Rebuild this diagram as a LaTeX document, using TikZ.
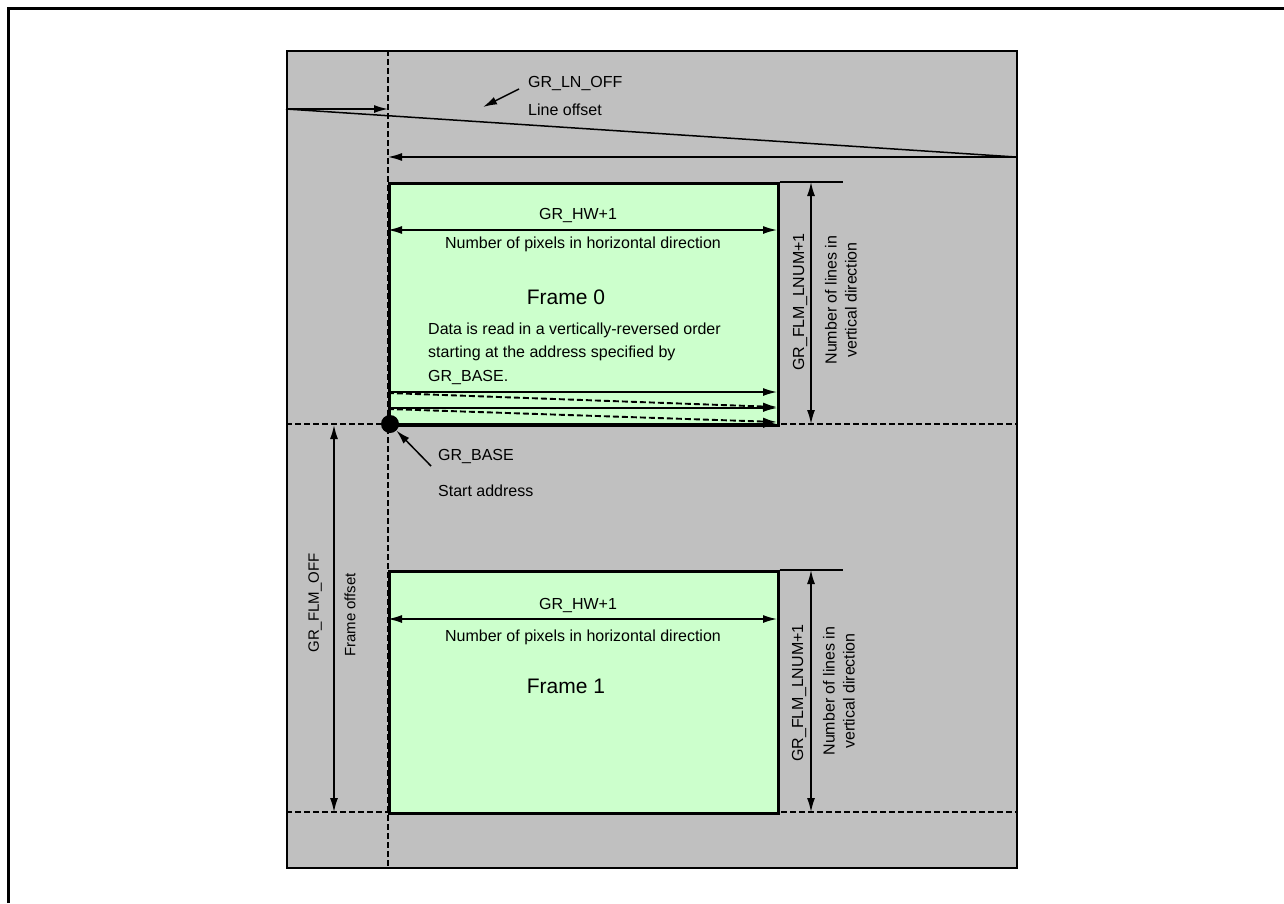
\documentclass[tikz,border=0pt]{standalone}
\usepackage{fontspec}
\setmainfont{Liberation Sans}
\usetikzlibrary{arrows.meta,calc}
\definecolor{memgray}{HTML}{C0C0C0}
\definecolor{framegreen}{HTML}{CCFFCC}
\begin{document}
\begin{tikzpicture}[x=1pt,y=-1pt,
  tip/.style={-{Latex[length=14pt,width=8pt]}},
  dbl/.style={{Latex[length=14pt,width=8pt]}-{Latex[length=14pt,width=8pt]}},
  dimline/.style={line width=1.5pt},
  dashln/.style={line width=1.9pt, dash pattern=on 6pt off 3pt},
  lbl/.style={font=\fontsize{16}{20}\selectfont, inner sep=0pt},
  slbl/.style={font=\fontsize{15}{19}\selectfont, inner sep=0pt},
  big/.style={font=\fontsize{21}{25}\selectfont, inner sep=0pt},
  memrect/.style={draw, line width=2.2pt, fill=memgray, inner sep=0pt, anchor=north west},
  framerect/.style={draw, line width=2.6pt, fill=framegreen, inner sep=0pt, anchor=north west,
                    minimum width=389pt, minimum height=242pt}]
\useasboundingbox (0,0) rectangle (1284,903);
% outer border (partially visible)
\draw[line width=3pt] (8.5,903) -- (8.5,8.5) -- (1284,8.5);
% memory area
\node[memrect, minimum width=730pt, minimum height=817pt] (mem) at (286,50) {};
% coordinates
\coordinate (vx) at (388,50);
\coordinate (vxb) at (388,867);
\coordinate (h0l) at (286,424);
\coordinate (h0r) at (1016,424);
\coordinate (h1l) at (286,812);
\coordinate (h1r) at (1016,812);
% dashed guides
\draw[dashln] (vx) -- (vxb);
\draw[dashln] (h0l) -- (h0r);
\draw[dashln] (h1l) -- (h1r);
% line offset
\coordinate (lo1) at (286,109);
\coordinate (lo1e) at (388,109);
\coordinate (lo2) at (1016,157);
\coordinate (lo2e) at (388,157);
\draw[tip, dimline] (lo1) -- (lo1e);
\draw[dimline] (lo1) -- (lo2);
\draw[tip, dimline] (lo2) -- (lo2e);
\node[lbl, anchor=west] (lnoff) at (528,83) {GR\_LN\_OFF};
\node[lbl, anchor=west] (lnofft) at (528,110) {Line offset};
\coordinate (lnarrs) at (519,89);
\coordinate (lnarre) at (483,107);
\draw[tip, dimline] (lnarrs) -- (lnarre);
% frames
\node[framerect] (f0) at (388,182) {};
\node[framerect] (f1) at (388,570) {};
% frame 0 contents
\coordinate (a0l) at (388,230);
\coordinate (a0r) at (777,230);
\draw[dbl, dimline] (a0l) -- (a0r);
\node[lbl] (hw0) at (578,215) {GR\_HW+1};
\node[lbl] (np0) at (583,244) {Number of pixels in horizontal direction};
\node[big] (fr0) at (566,297) {Frame 0};
\node[lbl, anchor=west] (d1) at (428,330) {Data is read in a vertically-reversed order};
\node[lbl, anchor=west] (d2) at (428,353) {starting at the address specified by};
\node[lbl, anchor=west] (d3) at (428,377) {GR\_BASE.};
\coordinate (r1l) at (388,392);
\coordinate (r1r) at (777,392);
\coordinate (r2l) at (388,393);
\coordinate (r2r) at (777,407);
\coordinate (r3l) at (388,408);
\coordinate (r3r) at (777,408);
\coordinate (r4l) at (388,409);
\coordinate (r4r) at (777,422);
\coordinate (r5l) at (388,424);
\coordinate (r5r) at (777,424);
\draw[tip, dimline] (r1l) -- (r1r);
\draw[tip, dashln] (r2l) -- (r2r);
\draw[tip, dimline] (r3l) -- (r3r);
\draw[tip, dashln] (r4l) -- (r4r);
\draw[tip, dimline] (r5l) -- (r5r);
% base dot
\node[circle, fill=black, minimum size=18pt, inner sep=0pt] (dot) at (390,424) {};
\coordinate (bas) at (431,466);
\draw[tip, dimline] (bas) -- (dot);
\node[lbl, anchor=west] (gb) at (438,456) {GR\_BASE};
\node[lbl, anchor=west] (sa) at (438,491) {Start address};
% vertical dims frame 0
\coordinate (t0e) at (843,182);
\draw[dimline] (f0.north east) -- (t0e);
\coordinate (v0t) at (811,182);
\coordinate (v0b) at (811,424);
\draw[dbl, dimline] (v0t) -- (v0b);
\node[lbl, rotate=90] (ln0) at (800,302) {GR\_FLM\_LNUM+1};
\node[lbl, rotate=90, align=center] (nl0) at (841,300) {Number of lines in\\vertical direction};
% frame offset
\coordinate (fo1) at (334,425);
\coordinate (fo2) at (334,812);
\draw[dbl, dimline] (fo1) -- (fo2);
\node[slbl, rotate=90] (fo) at (315,603) {GR\_FLM\_OFF};
\node[slbl, rotate=90] (fot) at (350,615) {Frame offset};
% frame 1 contents
\coordinate (a1l) at (388,619);
\coordinate (a1r) at (777,619);
\draw[dbl, dimline] (a1l) -- (a1r);
\node[lbl] (hw1) at (578,605) {GR\_HW+1};
\node[lbl] (np1) at (583,637) {Number of pixels in horizontal direction};
\node[big] (fr1) at (566,686) {Frame 1};
\coordinate (t1e) at (843,570);
\draw[dimline] (f1.north east) -- (t1e);
\coordinate (v1t) at (811,570);
\coordinate (v1b) at (811,812);
\draw[dbl, dimline] (v1t) -- (v1b);
\node[lbl, rotate=90] (ln1) at (799,693) {GR\_FLM\_LNUM+1};
\node[lbl, rotate=90, align=center] (nl1) at (839,691) {Number of lines in\\vertical direction};
\end{tikzpicture}
\end{document}
